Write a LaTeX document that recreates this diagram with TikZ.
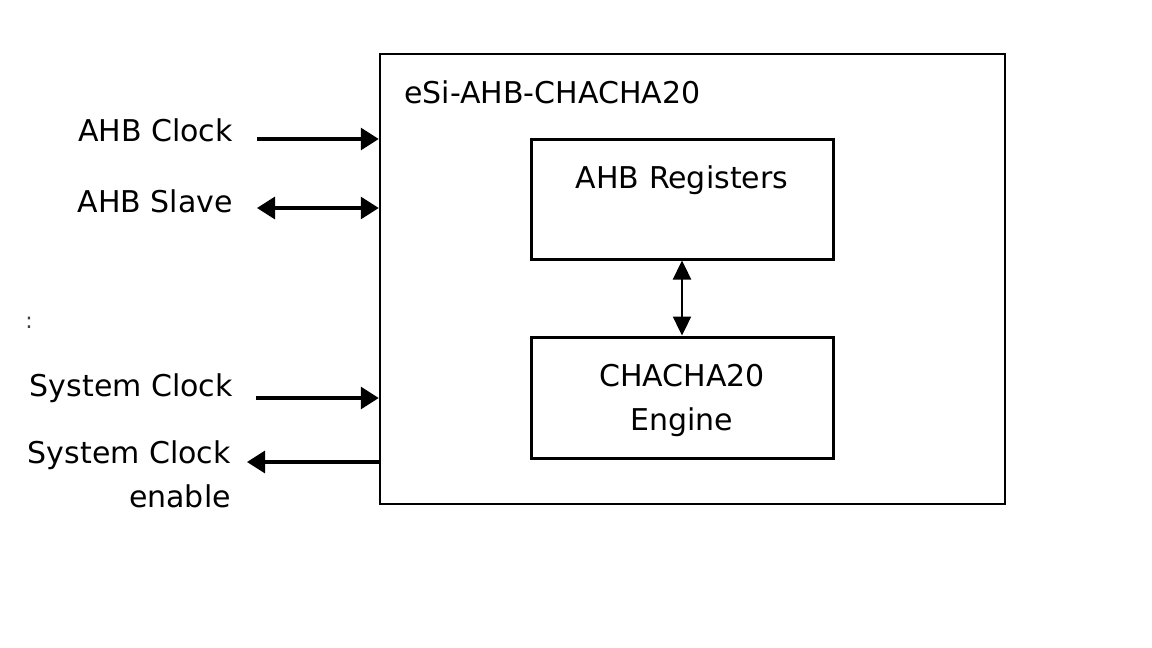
\documentclass[tikz,border=0pt]{standalone}
\usepackage{fontspec}
\setmainfont{DejaVu Sans}
\usetikzlibrary{arrows.meta}
\begin{document}
\begin{tikzpicture}[x=1pt,y=-1pt,
  lbl/.style={inner sep=0pt,font=\fontsize{30}{44}\selectfont},
  blk/.style={draw,line width=3pt,inner sep=0pt},
  sig/.style={line width=3.2pt,-{Triangle[length=18pt,width=22pt]}},
  sigb/.style={line width=3.2pt,{Triangle[length=18pt,width=22pt]}-{Triangle[length=18pt,width=22pt]}},
  vsig/.style={line width=2.4pt,{Triangle[length=19pt,width=18pt]}-{Triangle[length=19pt,width=18pt]}}]
\useasboundingbox (0,0) rectangle (1152,648);
\node[blk,line width=2.5pt,minimum width=625pt,minimum height=450pt] (outer) at (692.5,279) {};
\node[lbl,anchor=west] (title) at (404,92) {eSi-AHB-CHACHA20};
\node[blk,minimum width=302pt,minimum height=120pt] (reg) at (682,199) {};
\node[lbl] (regt) at (682,180) {AHB Registers};
\node[blk,minimum width=302pt,minimum height=121pt] (eng) at (682,397.5) {};
\node[lbl,align=center] (engt) at (682,400) {CHACHA20\\Engine};
\draw[vsig] (reg.south) -- (eng.north);
\node[lbl,anchor=east] (ahbclk) at (233,130) {AHB Clock};
\node[lbl,anchor=east] (ahbslv) at (233,201) {AHB Slave};
\node[lbl,anchor=east] (sysclk) at (233,388) {System Clock};
\node[lbl,anchor=east,align=right] (sysen) at (231,474) {System Clock\\enable};
\node[inner sep=0pt,font=\fontsize{22}{22}\selectfont,text=black!75] (dots) at (29,323) {:};
\coordinate (a1) at (257,139);
\coordinate (a2) at (257,208);
\coordinate (a3) at (256,398);
\coordinate (a4) at (247,462);
\draw[sig] (a1) -- (a1 -| outer.west);
\draw[sigb] (a2) -- (a2 -| outer.west);
\draw[sig] (a3) -- (a3 -| outer.west);
\draw[sig] (a4 -| outer.west) -- (a4);
\end{tikzpicture}
\end{document}
